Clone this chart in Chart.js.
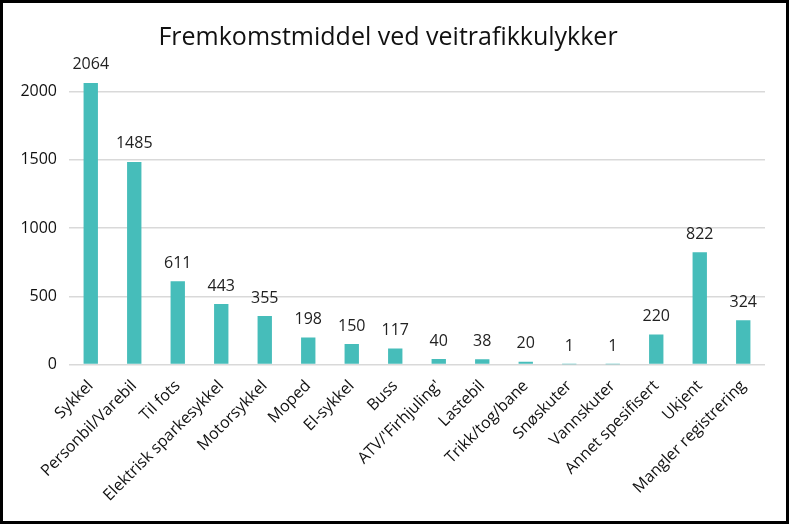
<!DOCTYPE html>
<html lang="no">
<head>
  <meta charset="UTF-8">
  <title>Fremkomstmiddel ved veitrafikkulykker</title>
  <script src="https://cdn.jsdelivr.net/npm/chart.js"></script>
  <style>
    html, body { margin: 0; padding: 0; background: #fff; }
    #wrap { width: 789px; height: 524px; box-sizing: border-box; border: 3px solid #000; position: relative; }
    #chart { display: block; }
  </style>
</head>
<body>
  <div id="wrap"><canvas id="chart" width="783" height="518"></canvas></div>
  <script>
    // Data
    const categories = ['Sykkel', 'Personbil/Varebil', 'Til fots', 'Elektrisk sparkesykkel', 'Motorsykkel',
      'Moped', 'El-sykkel', 'Buss', "ATV/'Firhjuling'", 'Lastebil', 'Trikk/tog/bane', 'Snøskuter',
      'Vannskuter', 'Annet spesifisert', 'Ukjent', 'Mangler registrering'];
    const counts = [2064, 1485, 611, 443, 355, 198, 150, 117, 40, 38, 20, 1, 1, 220, 822, 324];
    const yTicks = [0, 500, 1000, 1500, 2000];

    const font = "'Open Sans', 'Noto Sans', sans-serif";

    // Draw value labels above each bar
    const valueLabels = {
      id: 'valueLabels',
      afterDatasetsDraw(chart) {
        const ctx = chart.ctx;
        const meta = chart.getDatasetMeta(0);
        ctx.save();
        ctx.font = '16px ' + font;
        ctx.fillStyle = '#222';
        ctx.textAlign = 'center';
        ctx.textBaseline = 'bottom';
        meta.data.forEach((bar, i) => {
          ctx.fillText(String(counts[i]), bar.x, bar.y - 10);
        });
        ctx.restore();
      }
    };

    new Chart(document.getElementById('chart'), {
      type: 'bar',
      data: {
        labels: categories,
        datasets: [{
          data: counts,
          backgroundColor: '#46BDBA',
          borderWidth: 0,
          barPercentage: 0.33,
          categoryPercentage: 1
        }]
      },
      options: {
        responsive: false,
        animation: false,
        layout: { padding: { left: 8, right: 21, top: 0, bottom: 12 } },
        plugins: {
          legend: { display: false },
          tooltip: { enabled: false },
          title: {
            display: true,
            text: 'Fremkomstmiddel ved veitrafikkulykker',
            color: '#111',
            font: { family: font, size: 25, weight: 'normal' },
            padding: { top: 20, bottom: 25 }
          }
        },
        scales: {
          x: {
            grid: { display: false },
            border: { display: false },
            ticks: {
              color: '#111',
              font: { family: font, size: 16 },
              minRotation: 45,
              maxRotation: 45,
              padding: 4
            }
          },
          y: {
            min: 0,
            max: 2100,
            afterBuildTicks: axis => { axis.ticks = yTicks.map(v => ({ value: v })); },
            afterFit: axis => { axis.width = 58; },
            grid: { color: '#d9d9d9', lineWidth: 1.5, drawTicks: false },
            border: { display: false },
            ticks: {
              color: '#111',
              font: { family: font, size: 16 },
              padding: 12,
              callback: v => String(v)
            }
          }
        }
      },
      plugins: [valueLabels]
    });
  </script>
</body>
</html>
